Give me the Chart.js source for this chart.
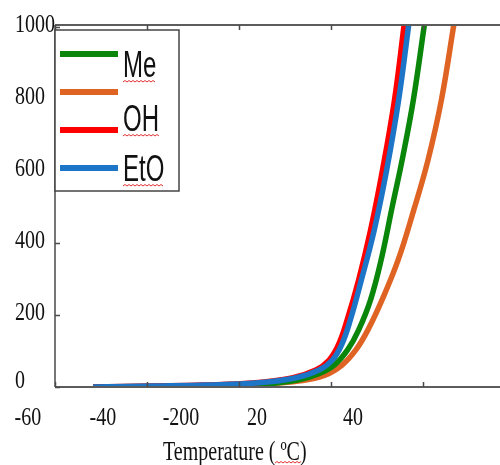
<!DOCTYPE html>
<html>
<head>
<meta charset="utf-8">
<script src="https://cdn.jsdelivr.net/npm/chart.js@4/dist/chart.umd.min.js"></script>
<style>
  body { margin: 0; background: #fff; }
  #wrap { width: 500px; height: 465px; position: relative; }
</style>
</head>
<body>
<div id="wrap"><canvas id="grafica"></canvas></div>
<script>
// ticks
const xTicks = [-60, -40, -20, 0, 20];
const yTicks = [0, 200, 400, 600, 800, 1000];
const yTickLabels = ["0", "200", "400", "600", "800", "1000"];
// the x labels in the figure sit off their ticks (and "-20","0" run together)
const xTickLabels = ["-60", "-40", "-200", "20", "40"];
const xTickLabelAt = [-65.9, -49.6, -32.6, -16.1, 4.8];
const xTitle = "Temperature ( \u00BAC)";

// series (temperature, value)
const seriesNames = ["Me", "", "OH", "EtO"];
const seriesColors = ["#0a860a", "#df6424", "#ff0000", "#1c75c6"];

const meT = [-51.7, -39.4, -28.5, -14.4, -7.2, -2.8, 0.7, 3.6, 6.0, 8.6, 10.9, 13.3, 15.6, 17.9, 20.3];
const meV = [0, 1.4, 2.8, 8.3, 19, 36, 61, 103, 158, 242, 353, 500, 639, 797, 1006];

const otroT = [-51.7, -28.5, -14.4, -6.7, -1.3, 2.4, 5.4, 8.0, 11.1, 14.6, 18.0, 21.1, 24.0, 26.7];
const otroV = [0, 2.8, 8.3, 17, 33, 61, 103, 158, 242, 353, 492, 631, 797, 1006];

const ohT = [-51.7, -38.9, -28.0, -17.2, -8.5, -3.3, -0.4, 1.6, 3.5, 6.0, 8.6, 11.2, 13.8, 15.9];
const ohV = [0, 2.8, 5.6, 11, 25, 47, 75, 117, 186, 297, 436, 603, 797, 1006];

const etoT = [-51.7, -38.3, -27.2, -16.3, -7.8, -2.6, 0.3, 2.3, 4.2, 6.6, 9.4, 12.1, 14.7, 16.9];
const etoV = [0, 2.8, 5.6, 11, 25, 47, 75, 117, 186, 297, 436, 603, 797, 1006];

const seriesT = [meT, otroT, ohT, etoT];
const seriesV = [meV, otroV, ohV, etoV];
const drawOrder = [2, 3, 1, 0]; // blue on top, orange at the bottom

const datasets = seriesNames.map((name, i) => ({
    label: name,
    data: seriesT[i].map((t, k) => ({ x: t, y: seriesV[i][k] })),
    borderColor: seriesColors[i],
    borderWidth: 5.5,
    pointRadius: 0,
    fill: false,
    tension: 0.4,
    order: drawOrder[i]
}));

// text squashed like the picture (taller than wide)
function texto(ctx, str, x, y, font, sy) {
    ctx.save();
    ctx.translate(x, y);
    ctx.scale(1, sy);
    ctx.font = font;
    ctx.fillStyle = "#111";
    ctx.textAlign = "left";
    ctx.textBaseline = "alphabetic";
    ctx.fillText(str, 0, 0);
    ctx.restore();
}

function onditas(ctx, x0, x1, y) {
    ctx.save();
    ctx.strokeStyle = "#e03030";
    ctx.lineWidth = 1;
    ctx.beginPath();
    let up = true;
    ctx.moveTo(x0, y);
    for (let x = x0 + 2; x <= x1; x += 2) {
        ctx.lineTo(x, up ? y - 1.5 : y);
        up = !up;
    }
    ctx.stroke();
    ctx.restore();
}

const marco = {
    id: "marco",
    afterDatasetsDraw(chart) {
        const { ctx, chartArea: a, scales } = chart;
        const sx = scales.x, sy = scales.y;
        ctx.save();
        ctx.strokeStyle = "#5c5c5c";
        ctx.lineWidth = 2;
        ctx.beginPath();
        ctx.moveTo(a.left, a.top); ctx.lineTo(a.right, a.top);
        ctx.moveTo(a.left, a.bottom); ctx.lineTo(a.right, a.bottom);
        ctx.stroke();
        ctx.lineWidth = 1.5;
        ctx.strokeStyle = "#4a4a4a";
        ctx.beginPath();
        ctx.moveTo(a.left, a.top); ctx.lineTo(a.left, a.bottom);
        // inward tick marks
        xTicks.forEach(v => {
            const px = Math.round(sx.getPixelForValue(v)) + 0.5;
            ctx.moveTo(px, a.bottom); ctx.lineTo(px, a.bottom - 5);
            ctx.moveTo(px, a.top); ctx.lineTo(px, a.top + 5);
        });
        yTicks.forEach(v => {
            const py = Math.round(sy.getPixelForValue(v)) + 0.5;
            ctx.moveTo(a.left, py); ctx.lineTo(a.left + 5, py);
        });
        ctx.stroke();
        ctx.restore();

        // tick labels
        const fSerif = "20px 'Liberation Serif', 'Times New Roman', serif";
        yTicks.forEach((v, i) => {
            const off = v === 0 ? 1 : 5;
            texto(ctx, yTickLabels[i], 15, sy.getPixelForValue(v) + off, fSerif, 1.3);
        });
        xTickLabels.forEach((lab, i) => {
            ctx.font = fSerif;
            const w = ctx.measureText(lab).width;
            texto(ctx, lab, sx.getPixelForValue(xTickLabelAt[i]) - w / 2, 425, fSerif, 1.3);
        });
        texto(ctx, xTitle, 163, 460, fSerif, 1.35);
        onditas(ctx, 275, 302, 463);
    },
    afterDraw(chart) {
        const { ctx, chartArea: a } = chart;
        // legend box
        const bx = a.left, by = 30, bw = 124, bh = 161;
        ctx.save();
        ctx.fillStyle = "#fff";
        ctx.fillRect(bx, by, bw, bh);
        ctx.strokeStyle = "#444";
        ctx.lineWidth = 1.5;
        ctx.strokeRect(bx, by, bw, bh);
        ctx.lineWidth = 6;
        ctx.lineCap = "butt";
        chart.data.datasets.forEach((ds, i) => {
            const y = 54 + 38 * i;
            ctx.strokeStyle = ds.borderColor;
            ctx.beginPath();
            ctx.moveTo(bx + 5, y); ctx.lineTo(bx + 63, y);
            ctx.stroke();
        });
        ctx.restore();
        const fSans = "24px 'Liberation Sans', Arial, sans-serif";
        const baseY = [77, null, 131, 181];
        chart.data.datasets.forEach((ds, i) => {
            if (!ds.label) return;
            texto(ctx, ds.label, bx + 68, baseY[i], fSans, 1.55);
            ctx.font = fSans;
            const w = ctx.measureText(ds.label).width;
            onditas(ctx, bx + 68, bx + 68 + w, baseY[i] + 5);
        });
    }
};

const ctx = document.getElementById("grafica").getContext("2d");
const grafica = new Chart(ctx, {
    type: "line",
    data: { datasets: datasets },
    options: {
        responsive: true,
        maintainAspectRatio: false,
        animation: false,
        layout: { padding: { left: 55, right: 0, top: 25, bottom: 78 } },
        plugins: { legend: { display: false }, tooltip: { enabled: false } },
        scales: {
            x: { type: "linear", display: false, min: -60, max: 36.74 },
            y: { type: "linear", display: false, min: 0, max: 1005.5 }
        }
    },
    plugins: [marco]
});
</script>
</body>
</html>
